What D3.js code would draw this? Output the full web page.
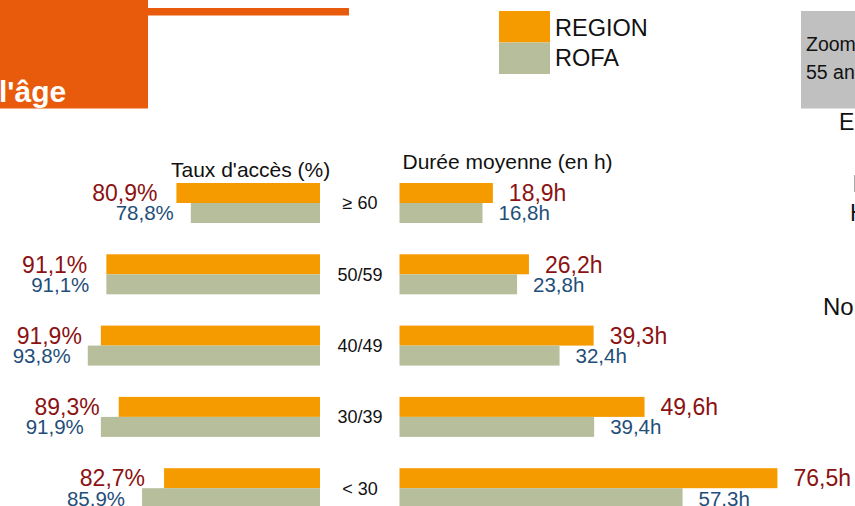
<!DOCTYPE html>
<html>
<head>
<meta charset="utf-8">
<script src="https://cdn.jsdelivr.net/npm/d3@7"></script>
<style>
  body { margin: 0; background: #fff; overflow: hidden; }
  svg { display: block; font-family: "Liberation Sans", Arial, sans-serif; }
</style>
</head>
<body>
<div id="plt"></div>
<script>
// data
var categories = ["≥ 60", "50/59", "40/49", "30/39", "< 30"];
var tauxRegion = [80.9, 91.1, 91.9, 89.3, 82.7];
var tauxRofa   = [78.8, 91.1, 93.8, 91.9, 85.9];
var dureeRegion = [18.9, 26.2, 39.3, 49.6, 76.5];
var dureeRofa   = [16.8, 23.8, 32.4, 39.4, 57.3];
var seriesNames = ["REGION", "ROFA"];

var colRegion = "#F59B00", colRofa = "#B7BE9C";
var colRed = "#8B1212", colBlue = "#1F4E79", colBanner = "#E95B0C";

var width = 855, height = 506;

var svg = d3.select("#plt")
            .append("svg")
            .attr("width", width)
            .attr("height", height);

var fr = d3.formatLocale({decimal: ",", thousands: " ", grouping: [3], currency: ["", "€"]});
var f1 = fr.format(".1f");

// header banner
svg.append("rect").attr("x", 0).attr("y", 0).attr("width", 148).attr("height", 108.5).attr("fill", colBanner);
svg.append("rect").attr("x", 148).attr("y", 8).attr("width", 201).attr("height", 7.5).attr("fill", colBanner);
svg.append("text").attr("x", -1).attr("y", 101.5)
   .attr("fill", "#fff").style("font-weight", "bold").style("font-size", "30px")
   .text("l'âge");

// legend
var legend = svg.selectAll(".leg").data(seriesNames).enter().append("g");
legend.append("rect")
      .attr("x", 499).attr("y", function(d, i) { return 11 + i * 31.5; })
      .attr("width", 51).attr("height", 31.5)
      .attr("fill", function(d, i) { return i === 0 ? colRegion : colRofa; });
legend.append("text")
      .attr("x", 555).attr("y", function(d, i) { return 36 + i * 29.5; })
      .style("font-size", "23.5px").attr("fill", "#111")
      .text(function(d) { return d; });

// grey note box on the right, cut by the frame
svg.append("rect").attr("x", 801).attr("y", 11).attr("width", 60).attr("height", 97.5).attr("fill", "#C0C0C0");
svg.append("text").attr("x", 806).attr("y", 51).style("font-size", "19.5px").attr("fill", "#111").text("Zoom sur les");
svg.append("text").attr("x", 806).attr("y", 79).style("font-size", "19.5px").attr("fill", "#111").text("55 ans et plus");
svg.append("text").attr("x", 839).attr("y", 130).style("font-size", "23px").attr("fill", "#111").text("Ensemble");
svg.append("rect").attr("x", 854).attr("y", 175).attr("width", 1.2).attr("height", 17).attr("fill", "#A8A8A8");
svg.append("text").attr("x", 850).attr("y", 221).style("font-size", "23px").attr("fill", "#111").text("Hommes");
svg.append("text").attr("x", 823).attr("y", 315).style("font-size", "24px").attr("fill", "#111").text("Nord");

// rows
var step = 71.3, bw = 40, p = 1 - bw / step;
var y = d3.scaleBand()
          .domain(categories)
          .range([183 - step * p / 2, 183 - step * p / 2 + categories.length * step])
          .paddingInner(p)
          .paddingOuter(p / 2);
var half = y.bandwidth() / 2;

// left: taux d'accès, bars grow to the left
var xL = d3.scaleLinear().domain([60, 100]).range([320, 45.2]);
// right: durée moyenne
var xR = d3.scaleLinear().domain([0, 80]).range([399.5, 794.7]);

var rows = categories.map(function(c, i) {
  return {cat: c, tReg: tauxRegion[i], tRofa: tauxRofa[i], dReg: dureeRegion[i], dRofa: dureeRofa[i]};
});

// titles
svg.append("text").attr("x", 171).attr("y", 176.5).style("font-size", "21px").attr("fill", "#111").text("Taux d'accès (%)");
svg.append("text").attr("x", 402.5).attr("y", 168.5).style("font-size", "21px").attr("fill", "#111").text("Durée moyenne (en h)");

var g = svg.selectAll(".row").data(rows).enter().append("g");

// left bars
g.append("rect")
 .attr("x", function(d) { return xL(d.tReg); })
 .attr("y", function(d) { return y(d.cat); })
 .attr("width", function(d) { return xL(60) - xL(d.tReg); })
 .attr("height", half)
 .attr("fill", colRegion);
g.append("rect")
 .attr("x", function(d) { return xL(d.tRofa); })
 .attr("y", function(d) { return y(d.cat) + half; })
 .attr("width", function(d) { return xL(60) - xL(d.tRofa); })
 .attr("height", half)
 .attr("fill", colRofa);

g.append("text")
 .attr("x", function(d) { return xL(d.tReg) - 19; })
 .attr("y", function(d) { return y(d.cat) + half / 2; })
 .attr("dy", "0.36em").attr("text-anchor", "end")
 .style("font-size", "23px").attr("fill", colRed)
 .text(function(d) { return f1(d.tReg) + "%"; });
g.append("text")
 .attr("x", function(d) { return xL(d.tRofa) - 17; })
 .attr("y", function(d) { return y(d.cat) + half * 1.5; })
 .attr("dy", "0.36em").attr("text-anchor", "end")
 .style("font-size", "20.5px").attr("fill", colBlue)
 .text(function(d) { return f1(d.tRofa) + "%"; });

// category labels
g.append("text")
 .attr("x", 360)
 .attr("y", function(d) { return y(d.cat) + half; })
 .attr("dy", "0.36em").attr("text-anchor", "middle")
 .style("font-size", "18px").attr("fill", "#111")
 .text(function(d) { return d.cat; });

// right bars
g.append("rect")
 .attr("x", xR(0))
 .attr("y", function(d) { return y(d.cat); })
 .attr("width", function(d) { return xR(d.dReg) - xR(0); })
 .attr("height", half)
 .attr("fill", colRegion);
g.append("rect")
 .attr("x", xR(0))
 .attr("y", function(d) { return y(d.cat) + half; })
 .attr("width", function(d) { return xR(d.dRofa) - xR(0); })
 .attr("height", half)
 .attr("fill", colRofa);

g.append("text")
 .attr("x", function(d) { return xR(d.dReg) + 16; })
 .attr("y", function(d) { return y(d.cat) + half / 2; })
 .attr("dy", "0.36em")
 .style("font-size", "23px").attr("fill", colRed)
 .text(function(d) { return f1(d.dReg) + "h"; });
g.append("text")
 .attr("x", function(d) { return xR(d.dRofa) + 16; })
 .attr("y", function(d) { return y(d.cat) + half * 1.5; })
 .attr("dy", "0.36em")
 .style("font-size", "20.5px").attr("fill", colBlue)
 .text(function(d) { return f1(d.dRofa) + "h"; });
</script>
</body>
</html>
